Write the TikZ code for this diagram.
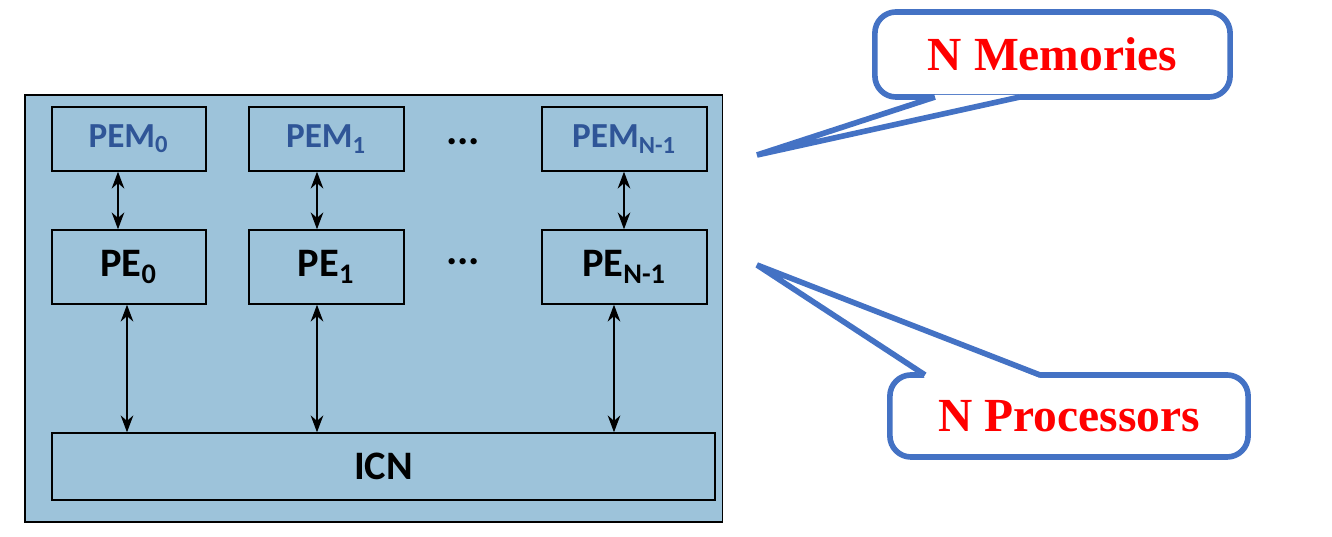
\documentclass[tikz,border=0pt]{standalone}
\usepackage{fontspec}
\setmainfont{Carlito}
\newfontfamily\calloutfont{Liberation Serif}
\usetikzlibrary{positioning,arrows.meta}
\definecolor{boardblue}{HTML}{9DC3DA}
\definecolor{pemblue}{HTML}{2F5597}
\definecolor{calloutblue}{HTML}{4472C4}
\tikzset{
	box/.style={draw, inner sep=0, font=\fontsize{11.5}{13}\selectfont\bfseries},
	pem/.style={box, minimum height=0.64cm, text=pemblue, font=\fontsize{10}{12}\selectfont\bfseries},
	pe/.style={box, minimum height=0.74cm},
	link/.style={Stealth-Stealth, thin},
	callout/.style={draw=calloutblue, line width=1.6pt, rounded corners=6pt, fill=white,
		text=red, font=\calloutfont\fontsize{13.5}{15}\selectfont\bfseries},
	pointer/.style={draw=calloutblue, line width=1.6pt, line join=bevel, fill=white}
}
\begin{document}
\begin{tikzpicture}[x=0.01cm, y=-0.01cm]
	\useasboundingbox (0,0) rectangle (1332,537);
	\node[draw, fill=boardblue, minimum width=6.97cm, minimum height=4.27cm, inner sep=0] (board) at (373.5,308.5) {};
	% memories
	\node[pem, minimum width=1.54cm] (pem0) at (129,139) {PEM\textsubscript{0}};
	\node[pem, minimum width=1.55cm] (pem1) at (326.5,139) {PEM\textsubscript{1}};
	\node[pem, minimum width=1.65cm] (pemn) at (624.5,139) {PEM\textsubscript{N-1}};
	\node[font=\large\bfseries] (dotsm) at (463,142) {...};
	% processors
	\node[pe, minimum width=1.54cm] (pe0) at (129,267) {PE\textsubscript{0}};
	\node[pe, minimum width=1.55cm] (pe1) at (326.5,267) {PE\textsubscript{1}};
	\node[pe, minimum width=1.65cm] (pen) at (624.5,267) {PE\textsubscript{N-1}};
	\node[font=\large\bfseries] (dotsp) at (463,262) {...};
	% network
	\node[box, minimum width=6.63cm, minimum height=0.67cm] (icn) at (383.5,466.5) {ICN};
	\draw[link] (pem0.south -| 118,0) -- (pe0.north -| 118,0);
	\draw[link] (pem1.south -| 317,0) -- (pe1.north -| 317,0);
	\draw[link] (pemn.south -| 624,0) -- (pen.north -| 624,0);
	\draw[link] (pe0.south -| 127,0) -- (icn.north -| 127,0);
	\draw[link] (pe1.south -| 317,0) -- (icn.north -| 317,0);
	\draw[link] (pen.south -| 614,0) -- (icn.north -| 614,0);
	% callouts
	\coordinate (tipm) at (757,155);
	\coordinate (tipp) at (757,265);
	\node[callout, minimum width=3.55cm, minimum height=0.85cm] (mem) at (1052.5,54.5) {N Memories};
	\node[callout, minimum width=3.58cm, minimum height=0.82cm] (proc) at (1069,416) {N Processors};
	\fill[white] (935,95) -- (tipm) -- (1020,95) -- cycle;
	\draw[pointer, fill=none] (935,97) -- (tipm) -- (1020,97);
	\fill[white] (925,378) -- (tipp) -- (1040,378) -- cycle;
	\draw[pointer, fill=none] (925,375) -- (tipp) -- (1040,375);
\end{tikzpicture}
\end{document}
